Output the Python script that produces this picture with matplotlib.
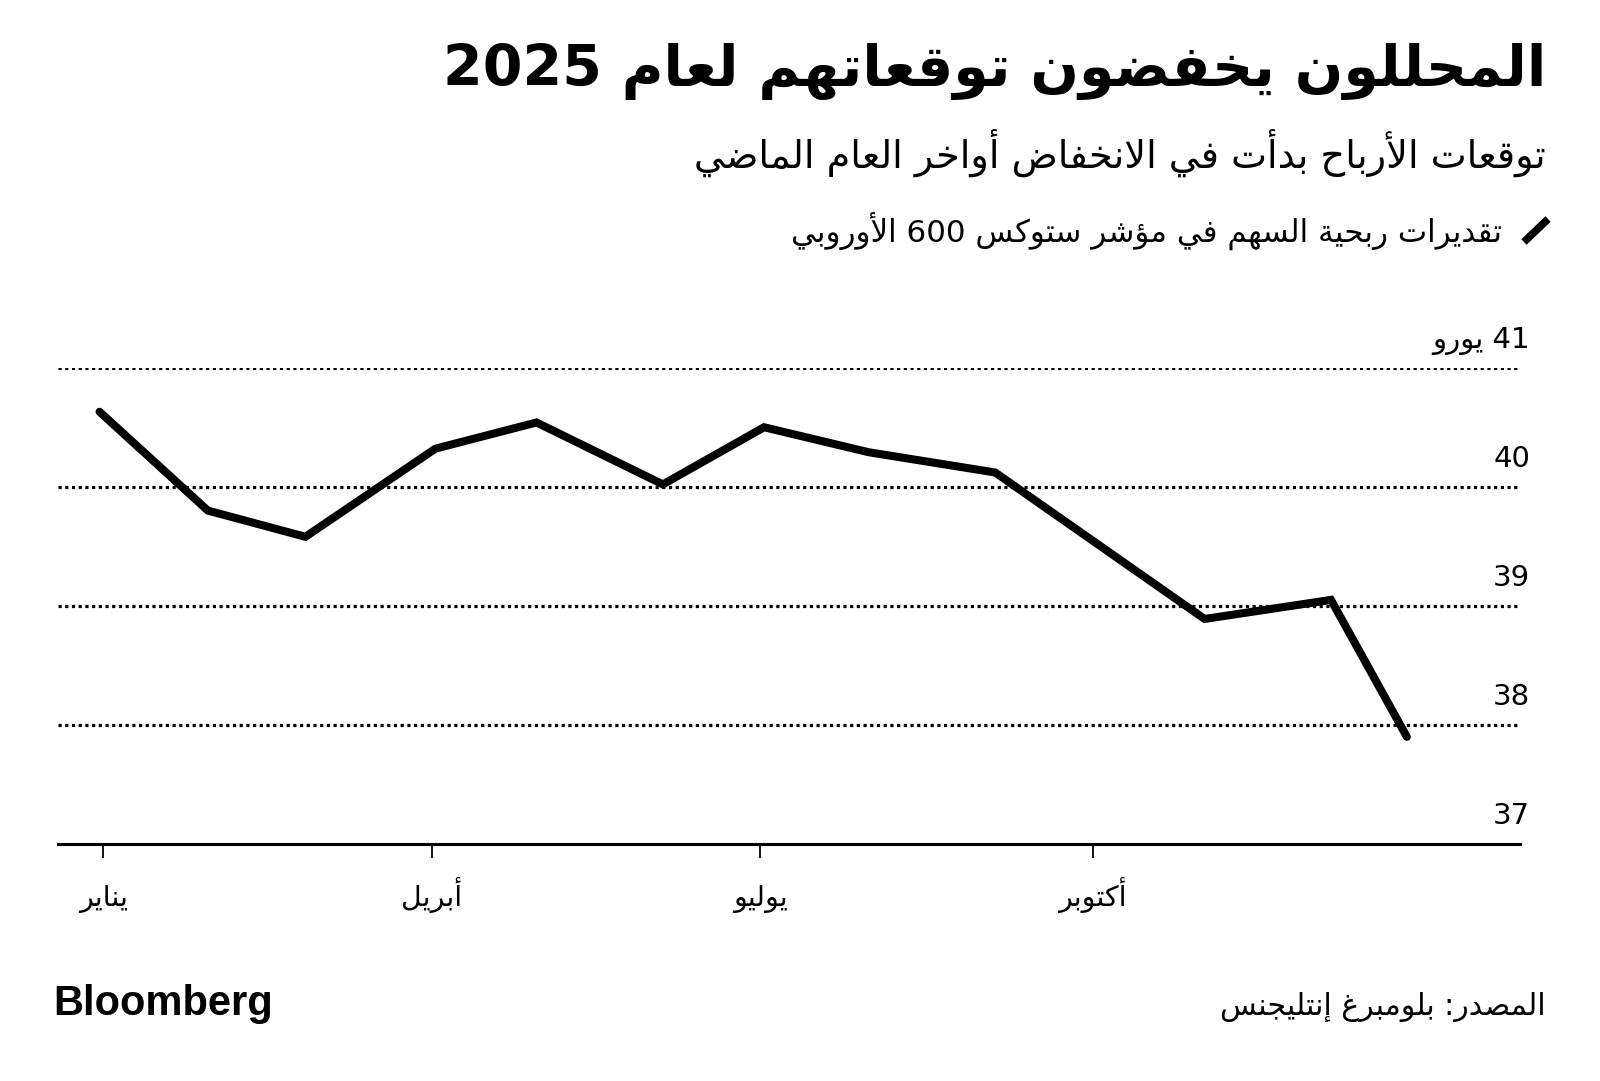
import re
import pandas as pd
import matplotlib
matplotlib.use('Agg')
import matplotlib.pyplot as plt
from matplotlib.lines import Line2D
from matplotlib.transforms import offset_copy

# ============================================================
# Data
# ============================================================
DATES = ['2023-12-31', '2024-01-30', '2024-02-26', '2024-04-02', '2024-04-30',
         '2024-06-04', '2024-07-02', '2024-07-31', '2024-09-04', '2024-11-01',
         '2024-12-06', '2024-12-27']
EPS = [40.63, 39.80, 39.58, 40.32, 40.54, 40.02, 40.50, 40.29, 40.12, 38.89,
       39.05, 37.90]

Y_TICKS = [37, 38, 39, 40, 41]
Y_UNIT = 'يورو'
X_TICKS = ['2024-01-01', '2024-04-01', '2024-07-01', '2024-10-01']
X_LABELS = ['يناير', 'أبريل', 'يوليو', 'أكتوبر']

TITLE = 'المحللون يخفضون توقعاتهم لعام 2025'
SUBTITLE = 'توقعات الأرباح بدأت في الانخفاض أواخر العام الماضي'
SERIES_NAME = 'تقديرات ربحية السهم في مؤشر ستوكس 600 الأوروبي'
SOURCE = 'المصدر: بلومبرغ إنتليجنس'

# ============================================================
# Minimal Arabic shaping (matplotlib has no shaping / bidi)
# ============================================================
_FORMS = [('ء', 0xFE80, 1), ('آ', 0xFE81, 2), ('أ', 0xFE83, 2), ('ؤ', 0xFE85, 2),
          ('إ', 0xFE87, 2), ('ئ', 0xFE89, 4), ('ا', 0xFE8D, 2), ('ب', 0xFE8F, 4),
          ('ة', 0xFE93, 2), ('ت', 0xFE95, 4), ('ث', 0xFE99, 4), ('ج', 0xFE9D, 4),
          ('ح', 0xFEA1, 4), ('خ', 0xFEA5, 4), ('د', 0xFEA9, 2), ('ذ', 0xFEAB, 2),
          ('ر', 0xFEAD, 2), ('ز', 0xFEAF, 2), ('س', 0xFEB1, 4), ('ش', 0xFEB5, 4),
          ('ص', 0xFEB9, 4), ('ض', 0xFEBD, 4), ('ط', 0xFEC1, 4), ('ظ', 0xFEC5, 4),
          ('ع', 0xFEC9, 4), ('غ', 0xFECD, 4), ('ف', 0xFED1, 4), ('ق', 0xFED5, 4),
          ('ك', 0xFED9, 4), ('ل', 0xFEDD, 4), ('م', 0xFEE1, 4), ('ن', 0xFEE5, 4),
          ('ه', 0xFEE9, 4), ('و', 0xFEED, 2), ('ى', 0xFEEF, 2), ('ي', 0xFEF1, 4)]
FORMS = {c: (b, n) for c, b, n in _FORMS}
LAM_ALEF = {'آ': 0xFEF5, 'أ': 0xFEF7, 'إ': 0xFEF9, 'ا': 0xFEFB}


def ar(s):
    units = []
    i = 0
    while i < len(s):
        c = s[i]
        if c == 'ل' and i + 1 < len(s) and s[i + 1] in LAM_ALEF:
            units.append((LAM_ALEF[s[i + 1]], 2))
            i += 2
            continue
        units.append(FORMS.get(c, (c, 0)))
        i += 1
    out = []
    for k, (u, n) in enumerate(units):
        if n == 0:
            out.append(u)
            continue
        prev_j = k > 0 and units[k - 1][1] == 4
        next_j = n == 4 and k + 1 < len(units) and units[k + 1][1] >= 2
        if n == 1:
            f = 0
        elif prev_j and next_j:
            f = 3
        elif prev_j:
            f = 1
        elif next_j:
            f = 2
        else:
            f = 0
        out.append(chr(u + f))
    vis = ''.join(out)[::-1]
    return re.sub(r'[0-9]+', lambda m: m.group(0)[::-1], vis)


FONT = ['DejaVu Sans']

# ============================================================
# Figure
# ============================================================
dates = pd.to_datetime(DATES)

fig = plt.figure(figsize=(16, 10.81), dpi=100, facecolor='white')
ax = fig.add_axes([58 / 1600, 1 - 844 / 1081, 1462 / 1600, (844 - 367.7) / 1081])

ax.plot(dates, EPS, color='black', linewidth=5.8, solid_joinstyle='miter',
        solid_capstyle='round', zorder=5, clip_on=False)

for yv in Y_TICKS[1:]:
    ax.axhline(yv, color='black', linewidth=2.3, linestyle=(0, (1, 1.1)), zorder=1)

ax.set_ylim(Y_TICKS[0], Y_TICKS[-1])
ax.set_xlim(pd.Timestamp('2023-12-19 12:00'), pd.Timestamp('2025-01-27 08:00'))

for s in ['top', 'right', 'left']:
    ax.spines[s].set_visible(False)
ax.spines['bottom'].set_linewidth(2.2)
ax.set_yticks([])

ax.set_xticks(pd.to_datetime(X_TICKS))
ax.set_xticklabels([])
ax.tick_params(axis='x', length=10, width=1.3, color='black')

# month labels on a common baseline
xtrans = offset_copy(ax.get_xaxis_transform(), fig=fig, x=0, y=-62, units='dots')
for d, lab in zip(pd.to_datetime(X_TICKS), X_LABELS):
    ax.text(d, 0, ar(lab), transform=xtrans, ha='center', va='baseline',
            fontsize=20.5, family=FONT)

ytrans = offset_copy(ax.get_yaxis_transform(), fig=fig, x=0, y=20, units='dots')
for yv in Y_TICKS:
    lab = str(yv)
    if yv == Y_TICKS[-1]:
        lab = ar(Y_UNIT) + ' ' + str(yv)
    ax.text(1.007, yv, lab, transform=ytrans, ha='right', va='baseline',
            fontsize=21, family=FONT, color='black')

# Titles
fig.text(1546 / 1600, 1 - 71 / 1081, ar(TITLE), ha='right', va='center',
         fontsize=41, fontweight='bold', family=FONT)
fig.text(1546 / 1600, 1 - 153 / 1081, ar(SUBTITLE), ha='right', va='center',
         fontsize=27.5, family=FONT)

# Legend
fig.add_artist(Line2D([1524 / 1600, 1548 / 1600], [1 - 242 / 1081, 1 - 219 / 1081],
                      transform=fig.transFigure, color='black', linewidth=5.5,
                      solid_capstyle='butt'))
fig.text(1502 / 1600, 1 - 231 / 1081, ar(SERIES_NAME), ha='right', va='center',
         fontsize=22.3, family=FONT)

# Footer
fig.text(53 / 1600, 1 - 1004 / 1081, 'Bloomberg', ha='left', va='center',
         fontsize=30, fontweight='heavy', family=['Liberation Sans', 'DejaVu Sans'])
fig.text(1546 / 1600, 1 - 1007 / 1081, ar(SOURCE), ha='right', va='center',
         fontsize=21.6, family=FONT)

fig.savefig('out.png', dpi=100, facecolor='white')
